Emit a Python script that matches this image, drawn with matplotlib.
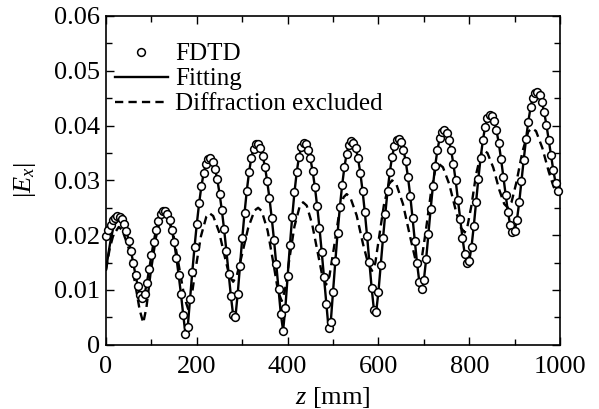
import numpy as np
import matplotlib
matplotlib.use("Agg")
import matplotlib.pyplot as plt
from matplotlib.ticker import MultipleLocator, FixedLocator, FixedFormatter

plt.rcParams['font.family'] = ['Liberation Serif', 'DejaVu Serif']
plt.rcParams['mathtext.fontset'] = 'custom'
plt.rcParams['mathtext.rm'] = 'Liberation Serif'
plt.rcParams['mathtext.it'] = 'Liberation Serif:italic'

# FDTD samples (z every 5 mm)
fdtd_z = np.arange(0, 1000, 5)
fdtd_e = [
    0.0198, 0.0209, 0.0219, 0.0227, 0.0232, 0.0235,
    0.0234, 0.0229, 0.0220, 0.0207, 0.0190, 0.0171, 0.0149, 0.0127, 0.0107, 0.0091,
    0.0085,
    0.0093, 0.0113, 0.0138, 0.0164, 0.0188, 0.0209, 0.0226, 0.0238, 0.0244,
    0.0245, 0.0239, 0.0227, 0.0210, 0.0187, 0.0159, 0.0127, 0.0093, 0.0055, 0.0019,
    0.0033, 0.0084, 0.0133, 0.0179, 0.0221, 0.0258, 0.0289, 0.0313, 0.0330, 0.0339,
    0.0340, 0.0333, 0.0321, 0.0302, 0.0276, 0.0246, 0.0211, 0.0172, 0.0130, 0.0089, 0.0054,
    0.0051, 0.0093, 0.0144, 0.0194, 0.0240, 0.0281, 0.0315, 0.0341, 0.0358, 0.0366,
    0.0366, 0.0359, 0.0345, 0.0325, 0.0298, 0.0267, 0.0231, 0.0191, 0.0147, 0.0101, 0.0056,
    0.0026,
    0.0068, 0.0126, 0.0182, 0.0233, 0.0278, 0.0315, 0.0343, 0.0360, 0.0368,
    0.0366, 0.0356, 0.0340, 0.0317, 0.0288, 0.0253, 0.0214, 0.0170, 0.0123, 0.0075, 0.0031,
    0.0042, 0.0097, 0.0152, 0.0204, 0.0251, 0.0291, 0.0324, 0.0349, 0.0365, 0.0372,
    0.0369, 0.0359, 0.0340, 0.0314, 0.0281, 0.0242, 0.0198, 0.0151, 0.0104, 0.0064,
    0.0060, 0.0097, 0.0146, 0.0194, 0.0239, 0.0280, 0.0315, 0.0343, 0.0362, 0.0373,
    0.0376, 0.0370, 0.0356, 0.0335, 0.0306, 0.0272, 0.0232, 0.0190, 0.0149, 0.0115,
    0.0101,
    0.0118, 0.0156, 0.0202, 0.0248, 0.0290, 0.0327, 0.0356, 0.0377, 0.0389,
    0.0392, 0.0387, 0.0374, 0.0355, 0.0330, 0.0300, 0.0265, 0.0229, 0.0195, 0.0166, 0.0150,
    0.0153, 0.0179, 0.0217, 0.0261, 0.0303, 0.0341, 0.0373, 0.0398, 0.0413, 0.0420,
    0.0418, 0.0408, 0.0391, 0.0368, 0.0339, 0.0307, 0.0274, 0.0243, 0.0219, 0.0205,
    0.0208, 0.0228, 0.0260, 0.0299, 0.0338, 0.0375, 0.0407, 0.0433, 0.0451, 0.0460,
    0.0461, 0.0455, 0.0443, 0.0424, 0.0401, 0.0374, 0.0346, 0.0319, 0.0296, 0.0280,
]

# Fitting curve (same z grid)
fit_z = np.arange(0, 1000, 5)
fit_e = [
    0.0137, 0.0165, 0.0190, 0.0210, 0.0226, 0.0234,
    0.0234, 0.0229, 0.0220, 0.0207, 0.0190, 0.0171, 0.0149, 0.0127, 0.0107, 0.0091,
    0.0085,
    0.0093, 0.0113, 0.0138, 0.0164, 0.0188, 0.0209, 0.0226, 0.0238, 0.0244,
    0.0245, 0.0239, 0.0227, 0.0210, 0.0187, 0.0159, 0.0127, 0.0093, 0.0055, 0.0019,
    0.0033, 0.0084, 0.0133, 0.0179, 0.0221, 0.0258, 0.0289, 0.0313, 0.0330, 0.0339,
    0.0340, 0.0333, 0.0321, 0.0302, 0.0276, 0.0246, 0.0211, 0.0172, 0.0130, 0.0089, 0.0054,
    0.0051, 0.0093, 0.0144, 0.0194, 0.0240, 0.0281, 0.0315, 0.0341, 0.0358, 0.0366,
    0.0366, 0.0359, 0.0345, 0.0325, 0.0298, 0.0267, 0.0231, 0.0191, 0.0147, 0.0101, 0.0056,
    0.0026,
    0.0068, 0.0126, 0.0182, 0.0233, 0.0278, 0.0315, 0.0343, 0.0360, 0.0368,
    0.0366, 0.0356, 0.0340, 0.0317, 0.0288, 0.0253, 0.0214, 0.0170, 0.0123, 0.0075, 0.0031,
    0.0042, 0.0097, 0.0152, 0.0204, 0.0251, 0.0291, 0.0324, 0.0349, 0.0365, 0.0372,
    0.0369, 0.0359, 0.0340, 0.0314, 0.0281, 0.0242, 0.0198, 0.0151, 0.0104, 0.0064,
    0.0060, 0.0097, 0.0146, 0.0194, 0.0239, 0.0280, 0.0315, 0.0343, 0.0362, 0.0373,
    0.0376, 0.0370, 0.0356, 0.0335, 0.0306, 0.0272, 0.0232, 0.0190, 0.0149, 0.0115,
    0.0101,
    0.0118, 0.0156, 0.0202, 0.0248, 0.0290, 0.0327, 0.0356, 0.0377, 0.0389,
    0.0392, 0.0387, 0.0374, 0.0355, 0.0330, 0.0300, 0.0265, 0.0229, 0.0195, 0.0166, 0.0150,
    0.0153, 0.0179, 0.0217, 0.0261, 0.0303, 0.0341, 0.0373, 0.0398, 0.0413, 0.0420,
    0.0418, 0.0408, 0.0391, 0.0368, 0.0339, 0.0307, 0.0274, 0.0243, 0.0219, 0.0205,
    0.0208, 0.0228, 0.0260, 0.0299, 0.0338, 0.0375, 0.0407, 0.0433, 0.0451, 0.0460,
    0.0461, 0.0455, 0.0443, 0.0424, 0.0401, 0.0374, 0.0346, 0.0319, 0.0296, 0.0280,
]

# Diffraction excluded curve
diff_z = [0, 8, 16, 28, 36, 50, 63, 74, 82, 89, 98, 110, 121, 128, 136, 149, 162, 173,
          181, 188, 197, 209, 221, 228, 236, 249, 262, 272, 280, 288, 299, 313, 327, 335,
          343, 356, 369, 379, 387, 394, 403, 415, 427, 434, 442, 454, 467, 477, 485, 492,
          501, 512, 523, 530, 538, 552, 566, 578, 586, 593, 601, 612, 623, 630, 639, 654,
          669, 681, 690, 696, 705, 716, 726, 733, 742, 756, 770, 781, 790, 796, 805, 815,
          826, 832, 840, 853, 866, 877, 885, 893, 904, 917, 930, 938, 947, 961, 975, 986, 995]
diff_e = [0.0137, 0.0175, 0.0200, 0.0215, 0.0209, 0.0176, 0.0117, 0.0064, 0.0040, 0.0068,
          0.0130, 0.0196, 0.0234, 0.0240, 0.0234, 0.0198, 0.0137, 0.0085, 0.0065, 0.0085,
          0.0137, 0.0198, 0.0234, 0.0240, 0.0235, 0.0206, 0.0159, 0.0125, 0.0115, 0.0126,
          0.0163, 0.0213, 0.0245, 0.0250, 0.0244, 0.0208, 0.0147, 0.0097, 0.0080, 0.0099,
          0.0152, 0.0216, 0.0254, 0.0260, 0.0254, 0.0220, 0.0165, 0.0123, 0.0110, 0.0125,
          0.0172, 0.0232, 0.0269, 0.0275, 0.0269, 0.0236, 0.0184, 0.0146, 0.0135, 0.0149,
          0.0194, 0.0255, 0.0293, 0.0300, 0.0294, 0.0257, 0.0200, 0.0157, 0.0145, 0.0161,
          0.0212, 0.0280, 0.0323, 0.0330, 0.0324, 0.0293, 0.0246, 0.0214, 0.0205, 0.0216,
          0.0255, 0.0311, 0.0349, 0.0355, 0.0350, 0.0323, 0.0283, 0.0257, 0.0250, 0.0260,
          0.0297, 0.0352, 0.0389, 0.0395, 0.0390, 0.0359, 0.0316, 0.0288, 0.0280]

x_ticks = [0, 200, 400, 600, 800, 1000]
x_labels = ['0', '200', '400', '600', '800', '1000']
y_ticks = [0, 0.01, 0.02, 0.03, 0.04, 0.05, 0.06]
y_labels = ['0', '0.01', '0.02', '0.03', '0.04', '0.05', '0.06']

fig = plt.figure(figsize=(5.99, 4.09), dpi=100)
ax = fig.add_axes([0.177, 0.157, 0.758, 0.804])

ax.plot(fit_z, fit_e, '-', color='black', lw=1.7, label='Fitting', zorder=2)
ax.plot(diff_z, diff_e, '--', color='black', lw=1.7, dashes=(3.5, 2.2),
        label='Diffraction excluded', zorder=2)
ax.plot(fdtd_z, fdtd_e, 'o', ms=5.6, mfc='white', mec='black', mew=1.1,
        label='FDTD', zorder=3, clip_on=False)

ax.set_xlim(0, 1000)
ax.set_ylim(0, 0.06)
ax.xaxis.set_major_locator(FixedLocator(x_ticks))
ax.xaxis.set_major_formatter(FixedFormatter(x_labels))
ax.xaxis.set_minor_locator(MultipleLocator(100))
ax.yaxis.set_major_locator(FixedLocator(y_ticks))
ax.yaxis.set_major_formatter(FixedFormatter(y_labels))
ax.yaxis.set_minor_locator(MultipleLocator(0.005))
ax.tick_params(which='both', direction='in', top=True, right=True, labelsize=19,
               width=1.0, colors='black')
ax.tick_params(which='major', length=6)
ax.tick_params(which='minor', length=4)
ax.tick_params(axis='x', which='major', pad=8)
ax.tick_params(axis='y', which='major', pad=4)
for s in ax.spines.values():
    s.set_linewidth(1.2)

ax.set_xlabel(r'$z$ [mm]', fontsize=19, labelpad=5)
ax.set_ylabel(r'$|E_x|$', fontsize=19, labelpad=12)

handles, labels = ax.get_legend_handles_labels()
order = [2, 0, 1]
leg = ax.legend([handles[i] for i in order], [labels[i] for i in order],
                loc='upper left', bbox_to_anchor=(0.02, 0.918), frameon=False,
                fontsize=18, handlelength=2.1, handletextpad=0.3, labelspacing=0.1,
                borderpad=0.0, borderaxespad=0.0)

fig.savefig('out.png', dpi=100)
